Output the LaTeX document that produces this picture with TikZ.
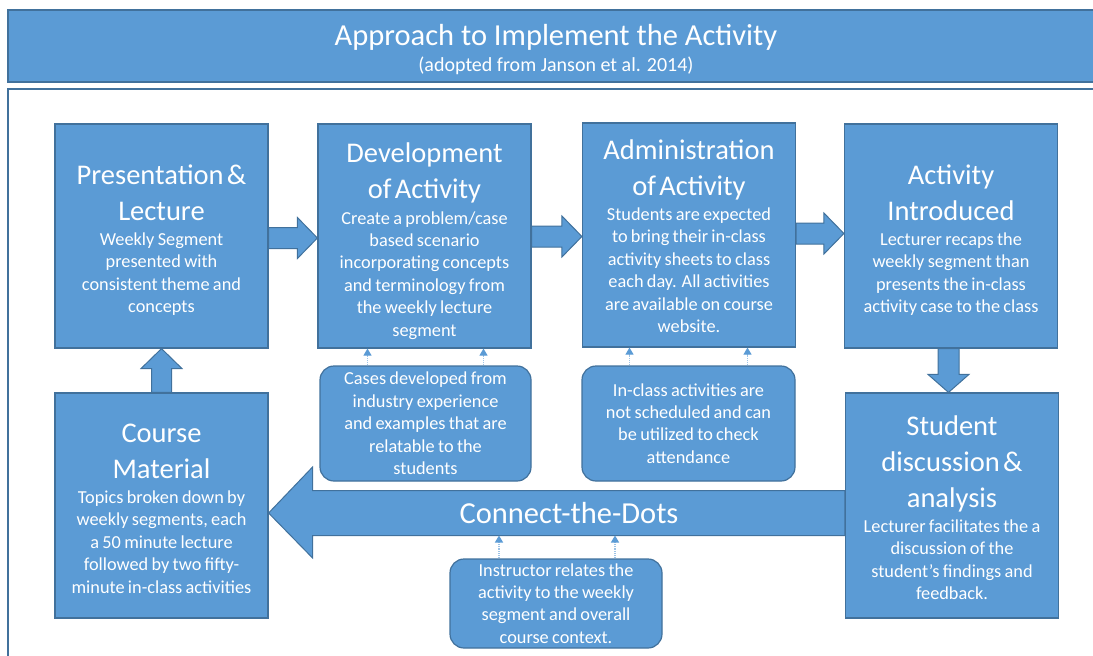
\documentclass[tikz,border=0pt]{standalone}
\usepackage{fontspec}
\setmainfont{Carlito}
\usetikzlibrary{calc,arrows.meta}
\definecolor{boxfill}{HTML}{5B9BD5}
\definecolor{boxline}{HTML}{41719C}
\definecolor{dotline}{HTML}{9DC3E6}

\tikzset{
  stagebox/.style={draw=boxline, fill=boxfill, line width=1.2pt,
    minimum width=213pt, minimum height=224pt, inner sep=0pt},
  stagelabel/.style={text=white, inner sep=0pt, text width=210pt, align=center},
  notebox/.style={draw=boxline, fill=boxfill, line width=1.2pt, text=white,
    rounded corners=14pt, minimum width=213pt, minimum height=115pt,
    inner sep=0pt, text width=210pt, align=center},
  blockarrow/.style={draw=boxline, fill=boxfill, line width=1pt, line join=miter},
  dotarrow/.style={draw=dotline, densely dotted, line width=1.2pt,
    -{Triangle[width=8pt,length=7pt,color=boxfill,fill=boxfill]}},
  banner/.style={draw=boxline, fill=boxfill, line width=1.2pt},
  whitetext/.style={text=white, inner sep=0pt}
}
% heading in large type, description below it in body type
\newcommand\stagetext[2]{{\fontsize{28.5}{36}\selectfont #1\par}\vspace{3pt}{\fontsize{18.3}{22.4}\selectfont #2\par}}
\newcommand\notetext[1]{{\fontsize{18.3}{22.4}\selectfont #1\par}}

% horizontal block arrow from node #1 to node #2, centre offset #3 from #1's centre
\newcommand\rightblock[3]{%
  \draw[blockarrow] ($(#1.east)+(0,#3-10.5)$) -- ($(#2.west |- #1.east)+(-20,#3-10.5)$)
    -- ($(#2.west |- #1.east)+(-20,#3-20.5)$) -- ($(#2.west |- #1.east)+(0,#3)$)
    -- ($(#2.west |- #1.east)+(-20,#3+20.5)$) -- ($(#2.west |- #1.east)+(-20,#3+10.5)$)
    -- ($(#1.east)+(0,#3+10.5)$) -- cycle;}

\begin{document}
\begin{tikzpicture}[x=1pt,y=-1pt]
\clip (0,0) rectangle (1093,656);

% title banner and frame
\draw[banner] (8,10) rectangle (1110,82);
\node[whitetext, anchor=base] (title) at (556,45) {\fontsize{30.5}{36}\selectfont Approach to Implement the Activity};
\node[whitetext, anchor=base] (subtitle) at (556,71) {\fontsize{20}{24}\selectfont (adopted from Janson et al. 2014)};
\draw[draw=boxline, line width=1.2pt] (8,680) -- (8,89) -- (1110,89);

% stage boxes
\node[stagebox] (b1) at (161.5,236) {};
\node[stagebox] (b2) at (424.5,236) {};
\node[stagebox] (b3) at (689,235) {};
\node[stagebox] (b4) at (951,236) {};
\node[stagebox, minimum height=225pt] (b5) at (161.5,505.5) {};
\node[stagebox, minimum height=225pt] (b6) at (952,505.5) {};

% stage texts
\node[stagelabel] (t1) at ($(b1.center)+(0,4)$) {\stagetext{Presentation \&\\Lecture}{Weekly Segment\\presented with\\consistent theme and\\concepts}};
\node[stagelabel] (t2) at ($(b2.center)+(0,5)$) {\stagetext{Development\\of Activity}{Create a problem/case\\based scenario\\incorporating concepts\\and terminology from\\the weekly lecture\\segment}};
\node[stagelabel] (t3) at ($(b3.center)+(0,1)$) {\stagetext{Administration\\of Activity}{Students are expected\\to bring their in-class\\activity sheets to class\\each day. All activities\\are available on course\\website.}};
\node[stagelabel] (t4) at ($(b4.center)+(0,4)$) {\stagetext{Activity\\Introduced}{Lecturer recaps the\\weekly segment than\\presents the in-class\\activity case to the class}};
\node[stagelabel] (t5) at ($(b5.center)+(0,3)$) {\stagetext{Course\\Material}{Topics broken down by\\weekly segments, each\\a 50 minute lecture\\followed by two fifty-\\minute in-class activities}};
\node[stagelabel] (t6) at ($(b6.center)+(0,2)$) {\stagetext{Student\\discussion \&\\analysis}{Lecturer facilitates the a\\discussion of the\\student’s findings and\\feedback.}};

% supporting notes
\node[notebox, minimum width=211pt] (r1) at (425.5,423.5) {\notetext{Cases developed from\\industry experience\\and examples that are\\relatable to the\\students}};
\node[notebox] (r2) at (688.5,423.5) {\notetext{In-class activities are\\not scheduled and can\\be utilized to check\\attendance}};
\node[notebox, minimum width=212pt, minimum height=89pt] (r3) at (556,603.5) {\notetext{Instructor relates the\\activity to the weekly\\segment and overall\\course context.}};

% block arrows along the top row
\rightblock{b1}{b2}{2}
\rightblock{b2}{b3}{0.5}
\rightblock{b3}{b4}{-1.5}

% down arrow from b4 to b6
\draw[blockarrow] ($(b4.south)+(-13,0)$) -- ($(b6.north -| b4.south)+(-13,-18)$)
  -- ($(b6.north -| b4.south)+(-23,-18)$) -- ($(b6.north -| b4.south)+(-2.5,0)$)
  -- ($(b6.north -| b4.south)+(18,-18)$) -- ($(b6.north -| b4.south)+(8,-18)$)
  -- ($(b4.south)+(8,0)$) -- cycle;

% up arrow from b5 to b1
\draw[blockarrow] ($(b5.north)+(-10,0)$) -- ($(b1.south -| b5.north)+(-10,20)$)
  -- ($(b1.south -| b5.north)+(-20.5,20)$) -- ($(b1.south -| b5.north)+(0,0)$)
  -- ($(b1.south -| b5.north)+(20.5,20)$) -- ($(b1.south -| b5.north)+(10,20)$)
  -- ($(b5.north)+(10,0)$) -- cycle;

% long arrow from b6 back to b5
\draw[blockarrow] ($(b6.west)+(0,-15)$) -- ($(b5.east |- b6.west)+(44,-15)$)
  -- ($(b5.east |- b6.west)+(44,-38.5)$) -- ($(b5.east |- b6.west)+(0,7.5)$)
  -- ($(b5.east |- b6.west)+(44,52.5)$) -- ($(b5.east |- b6.west)+(44,30)$)
  -- ($(b6.west)+(0,30)$) -- cycle;
\node[whitetext, anchor=base] (ctd) at (569,523) {\fontsize{30.5}{36}\selectfont Connect-the-Dots};
\coordinate (shaftlow) at (556,535.5);

% dotted links from the notes
\coordinate (r1l) at ($(r1.north)+(-58,0)$);
\coordinate (r1r) at ($(r1.north)+(58,0)$);
\coordinate (r2l) at ($(r2.north)+(-59,0)$);
\coordinate (r2r) at ($(r2.north)+(59,0)$);
\coordinate (r3l) at ($(r3.north)+(-57,0)$);
\coordinate (r3r) at ($(r3.north)+(59,0)$);
\draw[dotarrow] (r1l) -- (r1l |- b2.south);
\draw[dotarrow] (r1r) -- (r1r |- b2.south);
\draw[dotarrow] (r2l) -- (r2l |- b3.south);
\draw[dotarrow] (r2r) -- (r2r |- b3.south);
\draw[dotarrow] (r3l) -- (r3l |- shaftlow);
\draw[dotarrow] (r3r) -- (r3r |- shaftlow);
\end{tikzpicture}
\end{document}
